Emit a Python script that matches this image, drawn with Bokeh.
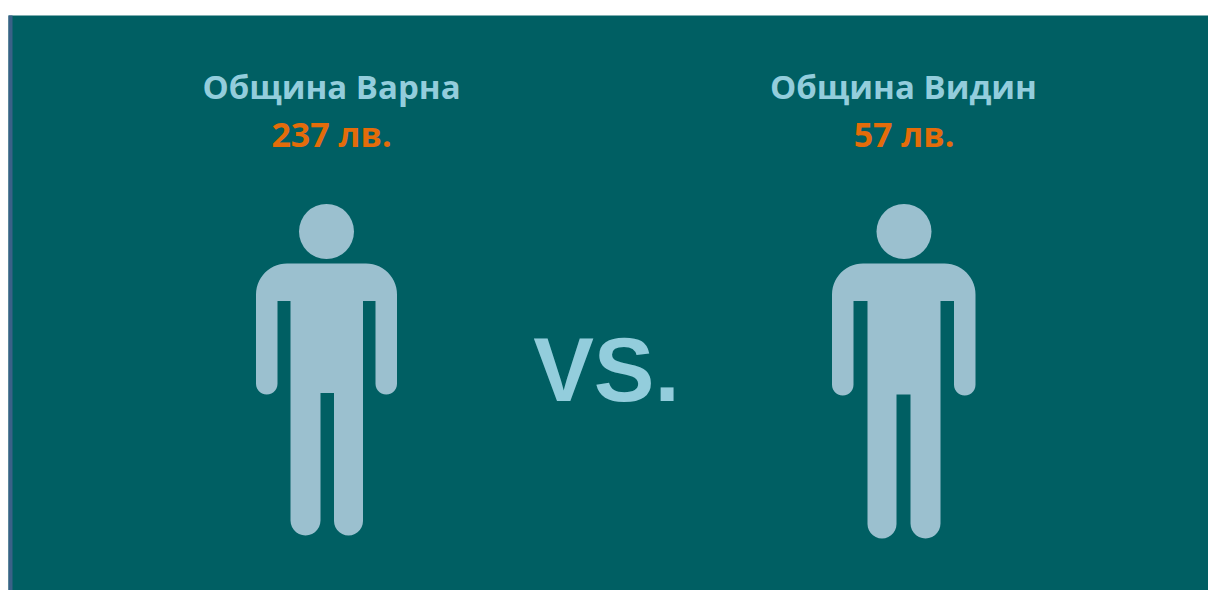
import math
from bokeh.plotting import figure
from bokeh.embed import file_html
from bokeh.resources import INLINE
from bokeh.core.properties import value

municipalities = ["Община Варна", "Община Видин"]
amounts = [237, 57]
amount_labels = ["237 лв.", "57 лв."]
separator = "VS."

W, H = 1208, 590
p = figure(width=W, height=H, x_range=(0, W), y_range=(H, 0),
           output_backend="svg", toolbar_location=None, min_border=0,
           border_fill_color="white", background_fill_color="white",
           outline_line_color=None)
p.axis.visible = False
p.grid.visible = False

BG, STRIP, FIG = "#005F63", "#3A6187", "#9BC0CF"
TITLE, AMOUNT, VS = "#93CDDC", "#E46C0A", "#93CDDC"

p.quad(left=8, right=1208, top=15, bottom=590, fill_color=BG, line_color=None)
p.quad(left=8, right=12, top=15, bottom=590, fill_color=STRIP, line_color=None)


def arc(cx, cy, r, a0, a1, n=14):
    return [(cx + r * math.cos(math.radians(a0 + (a1 - a0) * i / n)),
             cy + r * math.sin(math.radians(a0 + (a1 - a0) * i / n))) for i in range(n + 1)]


def person(left, right, top, armpit, arm_w, tor_l, tor_r, gap_l, gap_r, crotch, arm_bot, leg_bot):
    s = 31
    ar = arm_w / 2
    pts = []
    pts += arc(left + s, top + s, s, 180, 270)
    pts += arc(right - s, top + s, s, 270, 360)
    pts += arc(right - ar, arm_bot - ar, ar, 0, 180)
    pts += [(right - arm_w, armpit), (tor_r, armpit)]
    lr = (tor_r - gap_r) / 2
    pts += arc(tor_r - lr, leg_bot - lr, lr, 0, 180)
    pts += [(gap_r, crotch), (gap_l, crotch)]
    ll = (gap_l - tor_l) / 2
    pts += arc(tor_l + ll, leg_bot - ll, ll, 0, 180)
    pts += [(tor_l, armpit), (left + arm_w, armpit)]
    pts += arc(left + ar, arm_bot - ar, ar, 0, 180)
    return [q[0] for q in pts], [q[1] for q in pts]


figs = [
    dict(cx=326, head_r=27.5, args=(255.5, 396.5, 263, 300.5, 21.5, 290, 362.5, 320, 333.5, 392.5, 394, 535)),
    dict(cx=903.5, head_r=27.5, args=(831.5, 975, 263, 300.5, 21.5, 867, 940, 896, 910, 394, 395, 538)),
]
title_x = [331, 903]
amount_x = [331, 903.5]

for f, name, lab, tx, ax in zip(figs, municipalities, amount_labels, title_x, amount_x):
    xs, ys = person(*f["args"])
    p.patch(xs, ys, fill_color=FIG, line_color=None)
    p.circle(x=[f["cx"]], y=[231], radius=f["head_r"], fill_color=FIG, line_color=None)
    p.text(x=[tx], y=[85.5], text=[name], text_font=value("Open Sans"), text_font_style="bold",
           text_font_size="33px", text_color=TITLE, text_align="center", text_baseline="middle")
    p.text(x=[ax], y=[133.5], text=[lab], text_font=value("Open Sans"), text_font_style="bold",
           text_font_size="34px", text_color=AMOUNT, text_align="center", text_baseline="middle")

p.text(x=[606], y=[369], text=[separator], text_font=value("Liberation Sans"), text_font_style="bold",
       text_font_size="91px", text_color=VS, text_align="center", text_baseline="middle")

open("out.html", "w").write(file_html(p, INLINE))
